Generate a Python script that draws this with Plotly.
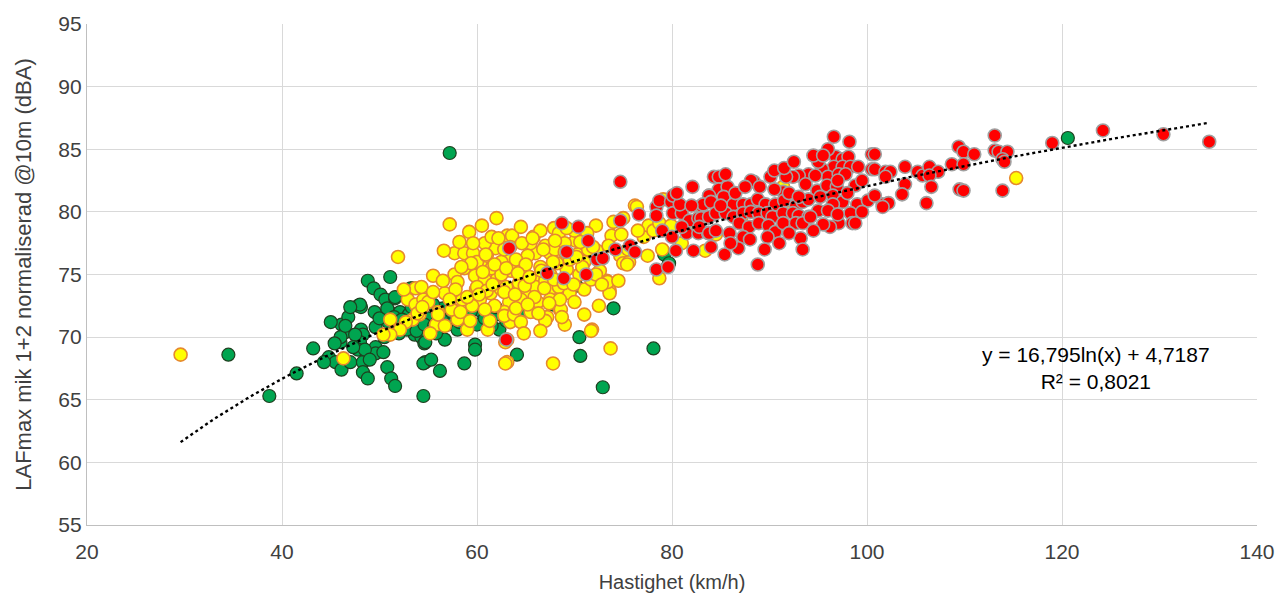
import numpy as np
import plotly.graph_objects as go

# ---- data ----
green_x = [34.5, 38.7, 41.5, 43.2, 44.8, 45.5, 46.1, 46.5, 46.0, 46.1, 47.0, 48.1, 48.3, 48.0, 47.8, 48.3, 48.3, 48.8,
           47.8, 48.1, 48.8, 49.4, 50.1, 50.6, 51.1, 51.6, 49.6, 49.6, 49.6, 50.4, 50.8, 51.2, 51.6, 50.9, 51.2, 52.1,
           53.6, 54.3, 54.6, 54.7, 54.5, 53.4, 54.7, 54.5, 55.3, 56.2, 56.7, 58.7, 59.8, 59.8, 62.3, 64.1, 70.5, 70.6,
           72.9, 74.0, 78.1, 79.6, 79.2, 79.7, 64.6, 70.2, 57.2, 120.6, 48.0, 51.6, 53.2, 46.0, 45.4, 46.8, 47.5, 48.5,
           49.0, 47.0, 49.5, 50.0, 50.8, 51.5, 52.5, 53.0, 54.0, 55.0, 56.0, 57.0, 58.5, 60.0, 61.5, 63.0, 64.5, 66.0,
           56.5, 55.5, 53.5, 52.0, 50.5, 58.0, 57.5, 59.0, 60.5, 62.0, 65.0, 67.8, 54.8, 55.8, 45.0, 46.5,
           52.8, 53.8, 54.6, 55.6, 56.4, 57.4, 58.2, 59.4, 60.8, 61.9, 63.4, 52.3, 53.3, 44.3, 47.3]
green_y = [68.6, 65.3, 67.1, 69.1, 68.4, 68.0, 71.0, 70.4, 69.6, 67.4, 68.0, 70.6, 70.2, 69.6, 69.0, 68.0, 67.2, 66.7,
           72.5, 72.4, 74.5, 73.9, 73.4, 73.0, 74.8, 73.1, 70.8, 69.2, 68.7, 68.8, 67.6, 66.7, 66.1, 71.2, 71.9, 72.0,
           70.2, 70.0, 69.5, 68.0, 65.3, 73.9, 69.6, 67.9, 68.2, 67.3, 69.8, 67.9, 69.4, 69.0, 70.6, 68.6, 70.0, 68.5,
           66.0, 72.3, 69.1, 75.7, 76.6, 75.9, 72.5, 74.1, 84.7, 85.9, 72.6, 73.2, 73.9, 70.0, 69.5, 71.6, 70.2, 69.0,
           68.2, 72.4, 72.0, 71.5, 72.3, 71.6, 71.0, 71.8, 72.2, 71.5, 71.3, 71.0, 70.8, 71.0, 70.9, 71.3, 72.0, 72.5,
           72.3, 72.6, 71.2, 70.3, 70.0, 70.6, 71.6, 71.8, 72.0, 71.8, 73.0, 72.6, 70.8, 70.3, 71.2, 70.9,
           70.6, 70.5, 71.0, 70.9, 71.6, 72.0, 71.2, 72.1, 71.5, 72.4, 72.2, 71.4, 72.4, 68.0, 69.2]

yellow_x = [29.6, 46.3, 53.7, 52.9, 53.7, 54.5, 54.1, 53.4, 52.7, 52.1, 51.1, 50.4, 51.1, 51.9, 55.5, 53.9, 56.7, 55.8,
            56.7, 57.5, 58.0, 59.0, 59.3, 61.1, 61.3, 57.7, 58.7, 59.6, 59.2, 60.5, 62.0, 62.4, 61.9, 63.1, 63.6, 63.1,
            57.7, 58.0, 58.7, 59.8, 60.4, 60.8, 59.9, 60.3, 61.4, 62.1, 62.4, 63.3, 62.8, 63.8, 63.4, 63.1, 63.1, 64.3,
            64.8, 67.9, 68.4, 72.2, 70.1, 71.3, 70.3, 72.3, 73.8, 74.8, 74.0, 76.2, 77.1, 77.6, 78.1, 78.7, 79.9, 81.0,
            78.7, 83.4, 74.7, 75.0, 75.6, 73.6, 73.3, 72.6, 71.0, 71.7, 72.2, 68.5, 67.2, 71.8, 69.2, 69.5, 68.2, 67.5,
            67.0, 66.0, 65.5, 65.2, 66.4, 65.2, 66.2, 64.9, 67.5, 68.4, 66.2, 67.5, 62.9, 62.9, 67.8, 71.7, 73.7, 68.6,
            67.0, 62.8, 63.8, 57.4, 73.6, 73.4, 72.8, 75.4, 91.4, 92.2, 87.1, 83.0, 115.3, 79.1, 76.4, 56.0, 55.0, 55.2,
            52.5, 54.3, 60.0, 61.0, 61.5, 62.5, 63.5, 64.0, 65.0, 66.5, 67.5, 68.0, 69.0, 70.0, 71.0, 70.5, 69.5, 70.0,
            65.5, 64.5, 61.8, 60.8, 59.5, 58.5, 57.8, 56.5, 58.3, 60.0, 61.0, 62.5, 63.0, 64.5, 66.0, 67.0, 68.5, 65.8,
            66.5, 64.5, 62.8, 60.8, 61.5, 74.5, 75.5, 76.5, 77.5, 80.5, 82.0, 79.0, 75.0, 73.5, 84.5, 56.6, 58.2, 69.0,
            71.0, 72.5, 66.5, 64.8, 57.2,
            59.0, 60.2, 61.6, 62.8, 63.9, 64.9, 65.9, 66.9, 67.9, 68.9, 69.9, 70.8, 59.4, 60.6, 61.8, 63.0, 64.2, 65.4,
            66.6, 67.8, 69.0, 70.2, 71.4, 58.4, 59.6, 60.9, 62.2, 63.4, 64.6, 65.7, 66.8, 68.0, 69.2, 70.6, 71.9, 64.0,
            65.2, 66.3, 67.4, 68.7, 56.0, 57.2, 55.5, 54.4]
yellow_y = [68.6, 68.3, 73.9, 73.0, 72.6, 73.0, 71.8, 71.4, 71.2, 70.6, 70.2, 70.2, 71.4, 76.4, 74.9, 71.9, 73.5, 71.0,
            70.9, 72.2, 71.4, 70.6, 71.3, 70.6, 71.3, 76.7, 76.7, 76.7, 78.4, 78.9, 79.5, 77.7, 77.1, 78.1, 78.1, 76.5,
            75.0, 74.4, 75.5, 74.9, 75.8, 74.6, 73.8, 73.0, 73.5, 74.7, 73.9, 72.8, 72.0, 72.0, 71.2, 69.8, 68.0, 74.3,
            75.0, 78.7, 78.3, 78.9, 77.7, 78.3, 76.6, 76.9, 78.1, 78.2, 79.2, 80.5, 78.0, 78.9, 78.5, 79.1, 78.9, 77.5,
            74.7, 76.9, 76.5, 75.9, 76.0, 73.7, 74.5, 75.3, 73.8, 74.6, 75.0, 72.2, 71.6, 70.6, 75.4, 76.2, 75.9, 76.7,
            77.3, 76.7, 77.5, 76.5, 74.7, 74.6, 73.8, 73.5, 73.8, 74.0, 72.8, 73.0, 69.6, 67.9, 67.9, 70.5, 69.1, 72.2,
            71.3, 71.7, 71.8, 72.2, 73.5, 74.4, 74.2, 75.8, 82.0, 80.0, 79.6, 80.4, 82.7, 81.0, 80.4, 72.0, 72.8, 70.3,
            73.8, 74.0, 76.0, 76.5, 75.5, 76.0, 75.3, 76.2, 75.8, 75.6, 75.0, 77.0, 77.5, 78.5, 76.0, 75.0, 73.5, 72.8,
            72.0, 71.2, 72.5, 72.2, 72.5, 73.0, 73.8, 74.5, 72.0, 74.0, 73.7, 75.0, 74.0, 73.0, 74.0, 74.5, 73.0, 78.0,
            78.5, 78.8, 77.0, 77.5, 78.0, 74.5, 77.0, 78.5, 76.5, 80.0, 79.0, 77.0, 79.5, 77.3, 78.2, 76.9, 77.6, 71.0,
            71.8, 72.5, 70.5, 70.3, 79.0,
            73.2, 73.4, 74.2, 73.6, 73.4, 74.1, 73.2, 73.9, 74.6, 74.3, 74.2, 75.6, 75.9, 75.2, 75.8, 75.5, 75.1, 74.8,
            75.3, 76.0, 76.8, 76.4, 77.0, 75.6, 77.5, 76.6, 77.9, 77.2, 77.5, 77.9, 77.0, 77.7, 78.7, 77.6, 77.2, 72.3,
            72.6, 71.9, 72.7, 71.6, 71.8, 73.0, 73.6, 72.4]

red_x = [74.7, 68.7, 70.4, 71.4, 69.2, 67.2, 68.9, 71.2, 72.3, 72.9, 74.2, 75.7, 76.2, 74.7, 76.6, 78.4, 78.4, 78.7,
         79.9, 80.1, 81.0, 81.8, 82.7, 83.7, 81.5, 82.7, 83.7, 80.4, 82.2, 78.4, 79.6, 82.1, 80.1, 80.8, 83.0, 83.8,
         84.3, 63.3, 63.0,
         96.6, 98.2, 100.5, 100.5, 96.8, 97.5, 98.1, 96.6, 97.5, 98.3, 99.1,
         95.4, 96.0, 97.1, 94.0, 94.7, 93.0, 92.4, 91.7, 90.1, 88.4, 88.1, 93.7, 94.9, 95.9, 96.9, 98.8, 91.4,
         84.8, 84.8, 85.7, 83.8, 85.3, 83.2, 84.0, 86.3, 87.3, 88.1, 88.8, 89.6, 90.6, 91.5, 92.7, 93.4, 94.0, 95.2,
         96.5, 97.5, 99.0, 100.1, 101.6, 96.5,
         83.0, 83.8, 84.5, 85.5, 86.3, 87.3, 88.1, 88.9, 89.8, 90.3, 91.4, 92.4, 93.0, 94.0, 95.0, 96.0, 98.3, 98.5,
         97.1, 96.2, 98.8,
         82.8, 83.8, 84.5, 85.9, 86.9, 87.9, 88.9, 89.9, 90.6, 87.3, 89.8, 91.4, 92.7, 93.4, 94.2,
         86.8, 85.4, 88.8, 93.2, 93.4,
         113.1, 109.4, 109.9, 111.0, 113.1, 113.5, 114.4, 113.9, 114.1, 119.0,
         100.8, 100.8, 101.9, 102.4, 103.9, 105.2, 105.7, 106.4, 107.3, 106.4, 108.7, 109.9, 103.9, 106.6, 103.6,
         100.8, 109.5, 109.9, 113.9, 106.1, 102.2, 101.6, 101.9,
         124.2, 130.4, 135.1,
         79.0, 80.0, 81.0, 86.0, 84.0, 85.0, 89.0, 90.5, 92.0, 93.0, 95.0, 94.5, 97.8, 99.5, 99.5, 97.0, 95.5, 94.5,
         92.0, 91.0, 89.5, 88.0, 97.0, 98.0, 86.5, 87.5, 85.5, 90.5, 91.5, 96.0, 95.5, 92.5, 82.0, 80.5]
red_y = [82.4, 79.1, 78.8, 77.7, 76.8, 75.1, 74.7, 75.0, 76.2, 76.3, 77.0, 77.3, 76.8, 79.3, 79.8, 80.4, 79.7, 80.9,
         80.8, 79.9, 79.9, 79.3, 79.5, 79.5, 78.3, 78.3, 78.3, 76.9, 76.9, 75.4, 75.6, 82.0, 81.3, 80.6, 80.5, 81.3,
         82.8, 77.1, 69.8,
         86.0, 85.6, 84.6, 83.4, 84.4, 84.2, 84.4, 83.6, 83.6, 83.6, 83.6,
         83.4, 82.8, 83.0, 83.0, 82.9, 82.9, 82.8, 82.8, 82.8, 82.4, 82.5, 82.2, 81.7, 82.1, 82.0, 82.1, 81.6,
         82.8, 81.8, 82.0, 81.3, 81.2, 80.6, 80.8, 80.6, 80.6, 80.6, 81.0, 80.6, 80.6, 80.9, 80.5, 80.8, 81.0, 81.2,
         81.3, 80.8, 80.6, 80.9, 80.6, 80.6,
         79.5, 79.6, 79.9, 79.9, 79.6, 79.9, 80.0, 79.9, 79.9, 79.6, 79.9, 79.9, 79.7, 79.6, 80.1, 80.1, 79.9, 79.1,
         79.1, 78.8, 79.1,
         78.8, 78.3, 78.5, 78.3, 79.1, 78.8, 79.1, 78.9, 78.4, 78.0, 78.0, 79.1, 79.1, 79.1, 79.6,
         77.1, 76.6, 75.8, 77.9, 77.0,
         86.1, 85.2, 84.8, 84.6, 84.9, 84.8, 84.8, 84.2, 84.0, 85.5,
         84.6, 83.4, 83.2, 83.2, 83.6, 83.2, 82.9, 83.6, 83.2, 82.9, 83.8, 83.8, 82.2, 82.0, 81.4,
         81.3, 81.8, 81.7, 81.7, 80.7, 80.7, 80.4, 82.8,
         86.5, 86.2, 85.6,
         78.5, 78.0, 78.8, 77.5, 77.2, 80.5, 82.0, 81.8, 81.5, 81.2, 84.0, 84.5, 83.0, 82.5, 80.0, 79.8, 79.0, 78.5,
         78.3, 77.5, 77.0, 77.8, 82.5, 81.5, 81.5, 82.0, 83.0, 83.3, 83.5, 85.0, 84.5, 84.0, 80.5, 81.5]

# logarithmic trendline as printed on the chart: y = a*ln(x) + b
trend_a = 16.795
trend_b = 4.7187
trend_label = "y = 16,795ln(x) + 4,7187<br>R² = 0,8021"

x_ticks = [20, 40, 60, 80, 100, 120, 140]
y_ticks = [55, 60, 65, 70, 75, 80, 85, 90, 95]

FONT = "Liberation Sans, Arial, sans-serif"
TXT = "#404040"

all_x = np.array(green_x + yellow_x + red_x)
tx = np.linspace(all_x.min(), all_x.max(), 200)
ty = trend_a * np.log(tx) + trend_b

fig = go.Figure()
fig.add_trace(go.Scatter(x=green_x, y=green_y, mode="markers",
                         marker=dict(size=13, color="#00A550", line=dict(color="#1F3F1F", width=1.2)),
                         showlegend=False))
fig.add_trace(go.Scatter(x=yellow_x, y=yellow_y, mode="markers",
                         marker=dict(size=13, color="#FFFF00", line=dict(color="#E6892E", width=1.6)),
                         showlegend=False))
fig.add_trace(go.Scatter(x=red_x, y=red_y, mode="markers",
                         marker=dict(size=13, color="#FF0000", line=dict(color="#A0A0A0", width=1.6)),
                         showlegend=False))
fig.add_trace(go.Scatter(x=tx, y=ty, mode="lines",
                         line=dict(color="black", width=2.4, dash="dot"),
                         showlegend=False, hoverinfo="skip"))

fig.add_annotation(x=123.5, y=67.55, xref="x", yref="y", text=trend_label, showarrow=False,
                   font=dict(family=FONT, size=21, color="black"), align="center")

fig.update_layout(
    width=1287, height=603,
    margin=dict(l=87, r=22, t=18, b=78),
    paper_bgcolor="white", plot_bgcolor="white",
    font=dict(family=FONT, color=TXT),
)
fig.update_xaxes(range=[20, 140], tickvals=x_ticks, showgrid=True, gridcolor="#D9D9D9", gridwidth=1.3,
                 zeroline=False, showline=True, linecolor="#BFBFBF", linewidth=1.3,
                 ticks="", tickfont=dict(size=21, color=TXT), ticklabelstandoff=8,
                 title=dict(text="Hastighet (km/h)", font=dict(size=20, color=TXT), standoff=12))
fig.update_yaxes(range=[55, 95], tickvals=y_ticks, showgrid=True, gridcolor="#D9D9D9", gridwidth=1.3,
                 zeroline=False, showline=True, linecolor="#BFBFBF", linewidth=1.3,
                 ticks="", tickfont=dict(size=21, color=TXT),
                 title=dict(text="LAFmax mik 1+2 normaliserad @10m (dBA)", font=dict(size=22, color=TXT), standoff=20))

fig.write_html("out.html")
